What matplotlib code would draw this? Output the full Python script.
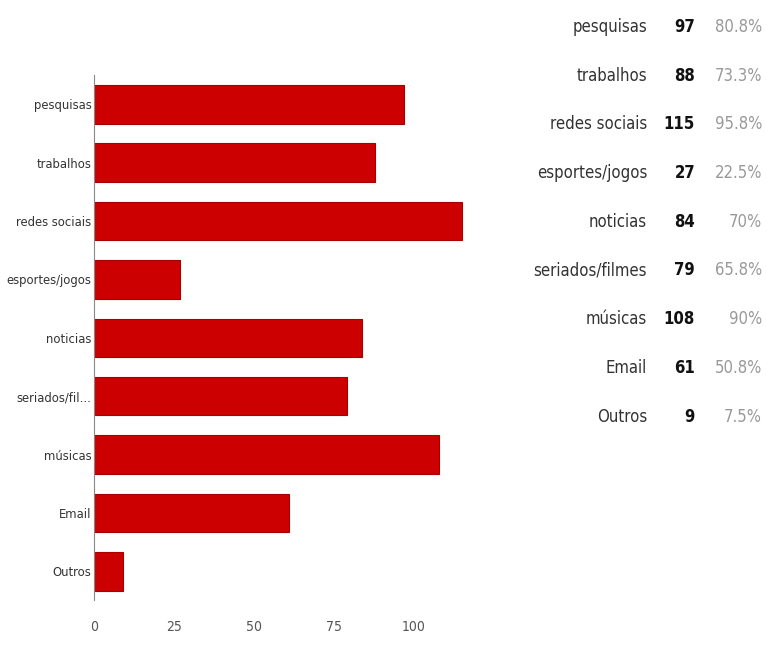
import matplotlib.pyplot as plt
from matplotlib import font_manager

categorias = ["pesquisas", "trabalhos", "redes sociais", "esportes/jogos", "noticias",
              "seriados/fil...", "músicas", "Email", "Outros"]
nomes_tabela = ["pesquisas", "trabalhos", "redes sociais", "esportes/jogos", "noticias",
                "seriados/filmes", "músicas", "Email", "Outros"]
valores = [97, 88, 115, 27, 84, 79, 108, 61, 9]
percentuais = ["80.8%", "73.3%", "95.8%", "22.5%", "70%", "65.8%", "90%", "50.8%", "7.5%"]
ticks_x = [0, 25, 50, 75, 100]

# fonte estreita se existir
nomes = {f.name for f in font_manager.fontManager.ttflist}
if 'DejaVu Sans Condensed' in nomes:
    fonte = ['DejaVu Sans Condensed', 'DejaVu Sans']
elif 'Liberation Sans Narrow' in nomes:
    fonte = ['Liberation Sans Narrow', 'DejaVu Sans']
else:
    fonte = ['DejaVu Sans']
plt.rcParams['font.family'] = fonte
plt.rcParams['font.stretch'] = 'condensed'

fig = plt.figure(figsize=(7.67, 6.45), dpi=100)
ax = fig.add_axes([0.1226, 0.069, 0.50, 0.8145])

y = list(range(len(categorias)))
ax.barh(y, valores, height=0.66, color='#cc0000', edgecolor='#a80000', linewidth=0.8)
ax.set_ylim(len(categorias) - 0.5, -0.5)
ax.set_xlim(0, 120)
ax.set_yticks(y)
ax.set_yticklabels(categorias, fontsize=9.3, color='#333333')
ax.set_xticks(ticks_x)
ax.set_xticklabels([str(t) for t in ticks_x], fontsize=10, color='#555555')
ax.tick_params(axis='both', length=0, pad=2)
ax.tick_params(axis='x', pad=14)
for s in ['top', 'right', 'bottom']:
    ax.spines[s].set_visible(False)
ax.spines['left'].set_color('#888888')

# tabela a direita
for i, (n, v, p) in enumerate(zip(nomes_tabela, valores, percentuais)):
    yy = 1 - (27 + i * 48.7) / 645
    fig.text(647 / 767, yy, n, ha='right', va='center', fontsize=12, color='#333333')
    fig.text(695 / 767, yy, str(v), ha='right', va='center', fontsize=12,
             fontweight='bold', color='#111111')
    fig.text(762 / 767, yy, p, ha='right', va='center', fontsize=12, color='#999999')

fig.savefig('out.png', dpi=100)
